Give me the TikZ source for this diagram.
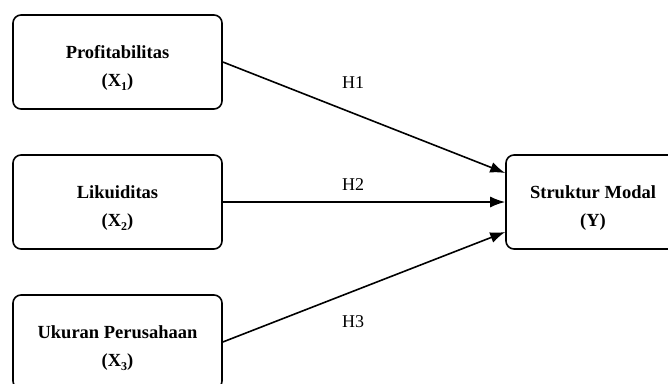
\documentclass[tikz,border=0pt]{standalone}
\usepackage{fontspec}
\setmainfont{Liberation Serif}
\usetikzlibrary{arrows.meta}
\newcommand{\varsub}[1]{\raisebox{-4pt}{\fontsize{12}{12}\selectfont #1}}

\begin{document}
\begin{tikzpicture}[x=1pt, y=-1pt, every node/.style={font=\fontsize{18}{28}\selectfont}, varbox/.style={draw, line width=1.6pt, rounded corners=8pt, minimum width=209pt, minimum height=94pt, align=center, font=\fontsize{18.5}{28}\selectfont\bfseries}, hyp/.style={-{Latex[length=15pt,width=11pt]}, line width=1.6pt}]
	\useasboundingbox (0,0) rectangle (668,383);
	\clip (0,0) rectangle (668,383);
	\node[varbox] (X1) at (117.5,62) {\rule{0pt}{25pt}Profitabilitas\\(X\varsub{1})};
	\node[varbox] (X2) at (117.5,202) {\rule{0pt}{25pt}Likuiditas\\(X\varsub{2})};
	\node[varbox] (X3) at (117.5,342) {\rule{0pt}{25pt}Ukuran Perusahaan\\(X\varsub{3})};
	\node[varbox, minimum width=174pt] (Y) at (593,202) {\rule{0pt}{25pt}Struktur Modal\\(Y)};
	\draw[hyp] (X1.east) -- ([yshift=29pt]Y.west);
	\draw[hyp] (X2.east) -- (Y.west);
	\draw[hyp] (X3.east) -- ([yshift=-30pt]Y.west);
	\node (H1) at (353,83) {H1};
	\node (H2) at (353,185) {H2};
	\node (H3) at (353,322) {H3};
\end{tikzpicture}
\end{document}
